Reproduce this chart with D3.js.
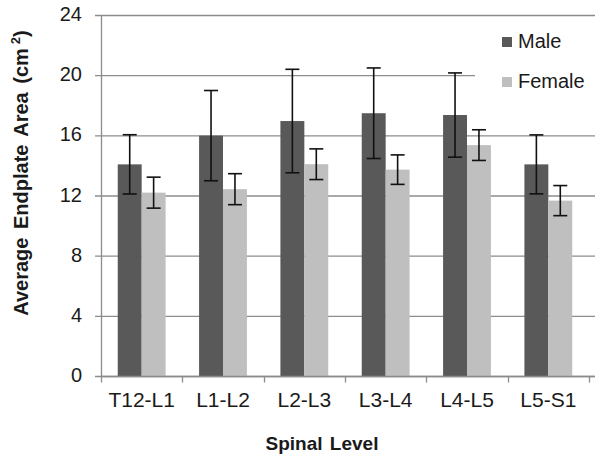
<!DOCTYPE html>
<html>
<head>
<meta charset="utf-8">
<script src="https://cdn.jsdelivr.net/npm/d3@7"></script>
<style>
    body { margin: 0; background: #fff; }
    #chart-area { width: 595px; height: 455px; }
    text { font-family: "Liberation Sans", Arial, sans-serif; fill: #1a1a1a; }
</style>
</head>
<body>
<div id="chart-area"></div>
<script>

// data
const categories = ["T12-L1", "L1-L2", "L2-L3", "L3-L4", "L4-L5", "L5-S1"];
const seriesNames = ["Male", "Female"];
const maleMeans = [14.07, 15.98, 16.95, 17.47, 17.35, 14.07];
const maleSD = [1.97, 3.0, 3.44, 3.01, 2.8, 1.96];
const femaleMeans = [12.19, 12.42, 14.08, 13.72, 15.35, 11.66];
const femaleSD = [1.03, 1.03, 1.02, 0.98, 1.02, 1.0];
const yTicks = [0, 4, 8, 12, 16, 20, 24];


class GroupedBarVis {

    constructor(parentElement) {
        this.parentElement = parentElement;
        this.colors = {Male: "#595959", Female: "#bfbfbf"};
        this.initVis();
    }

    initVis() {
        let vis = this;

        vis.width = 595;
        vis.height = 455;
        vis.plot = {left: 101, right: 589, top: 15, bottom: 376};

        vis.svg = d3.select("#" + vis.parentElement).append("svg")
            .attr("width", vis.width)
            .attr("height", vis.height);

        // scales
        vis.x0 = d3.scaleBand()
            .domain(categories)
            .range([vis.plot.left, vis.plot.right])
            .paddingInner(0)
            .paddingOuter(0);

        vis.x1 = d3.scaleBand()
            .domain(seriesNames)
            .range([0, vis.x0.bandwidth()])
            .paddingInner(0)
            .paddingOuter(0.7);

        vis.y = d3.scaleLinear()
            .domain([0, 24])
            .range([vis.plot.bottom, vis.plot.top]);

        vis.wrangleData();
    }

    wrangleData() {
        let vis = this;

        vis.displayData = categories.map((c, i) => ({
            category: c,
            values: [
                {series: "Male", mean: maleMeans[i], sd: maleSD[i]},
                {series: "Female", mean: femaleMeans[i], sd: femaleSD[i]}
            ]
        }));

        vis.updateVis();
    }

    updateVis() {
        let vis = this;

        // horizontal gridlines + y ticks
        vis.svg.append("g")
            .attr("class", "grid")
            .selectAll("line")
            .data(yTicks)
            .enter().append("line")
            .attr("x1", vis.plot.left - 6)
            .attr("x2", vis.width)
            .attr("y1", d => vis.y(d) + 0.5)
            .attr("y2", d => vis.y(d) + 0.5)
            .attr("stroke", "#8c8c8c")
            .attr("stroke-width", 1.3);

        vis.svg.append("g")
            .selectAll("text")
            .data(yTicks)
            .enter().append("text")
            .attr("x", vis.plot.left - 19)
            .attr("y", d => vis.y(d))
            .attr("dy", "0.3em")
            .attr("text-anchor", "end")
            .style("font-size", "20px")
            .text(d => d);

        // y axis line
        vis.svg.append("line")
            .attr("x1", vis.plot.left + 0.5)
            .attr("x2", vis.plot.left + 0.5)
            .attr("y1", vis.plot.top)
            .attr("y2", vis.plot.bottom)
            .attr("stroke", "#8c8c8c")
            .attr("stroke-width", 1.3);

        // x axis
        let xAxis = d3.axisBottom(vis.x0)
            .tickSize(0)
            .tickSizeOuter(0);

        let xg = vis.svg.append("g")
            .attr("class", "x-axis axis")
            .attr("transform", "translate(0," + (vis.plot.bottom + 0.5) + ")")
            .call(xAxis);
        xg.select(".domain").remove();
        xg.selectAll("text")
            .attr("y", 16)
            .attr("dy", "0.71em")
            .style("font-size", "21px")
            .style("font-family", "\"Liberation Sans\", Arial, sans-serif")
            .attr("fill", "#1a1a1a");

        // category boundary ticks
        let bounds = categories.map(c => vis.x0(c)).concat([vis.plot.right]);
        xg.selectAll(".bound")
            .data(bounds)
            .enter().append("line")
            .attr("class", "bound")
            .attr("x1", d => Math.round(d) + 0.5)
            .attr("x2", d => Math.round(d) + 0.5)
            .attr("y1", 0)
            .attr("y2", 6)
            .attr("stroke", "#8c8c8c")
            .attr("stroke-width", 1.3);

        // bars
        let groups = vis.svg.selectAll(".group")
            .data(vis.displayData)
            .enter().append("g")
            .attr("class", "group")
            .attr("transform", d => "translate(" + vis.x0(d.category) + ",0)");

        groups.selectAll("rect")
            .data(d => d.values)
            .enter().append("rect")
            .attr("x", d => vis.x1(d.series))
            .attr("width", vis.x1.bandwidth())
            .attr("y", d => vis.y(d.mean))
            .attr("height", d => vis.y(0) - vis.y(d.mean))
            .attr("fill", d => vis.colors[d.series]);

        // x axis baseline drawn over bars
        vis.svg.append("line")
            .attr("x1", vis.plot.left)
            .attr("x2", vis.width)
            .attr("y1", vis.plot.bottom + 0.5)
            .attr("y2", vis.plot.bottom + 0.5)
            .attr("stroke", "#8c8c8c")
            .attr("stroke-width", 1.3);

        // error bars
        let capW = 7;
        let err = groups.selectAll(".err")
            .data(d => d.values)
            .enter().append("g")
            .attr("class", "err")
            .attr("stroke", "#111")
            .attr("stroke-width", 1.6);

        err.append("line")
            .attr("x1", d => vis.x1(d.series) + vis.x1.bandwidth() / 2)
            .attr("x2", d => vis.x1(d.series) + vis.x1.bandwidth() / 2)
            .attr("y1", d => vis.y(d.mean + d.sd))
            .attr("y2", d => vis.y(d.mean - d.sd));

        err.selectAll(".cap")
            .data(d => [d.mean + d.sd, d.mean - d.sd].map(v => ({v: v, series: d.series})))
            .enter().append("line")
            .attr("class", "cap")
            .attr("x1", d => vis.x1(d.series) + vis.x1.bandwidth() / 2 - capW)
            .attr("x2", d => vis.x1(d.series) + vis.x1.bandwidth() / 2 + capW)
            .attr("y1", d => vis.y(d.v))
            .attr("y2", d => vis.y(d.v));

        // legend (white box covers grid line behind it)
        let legend = vis.svg.append("g").attr("class", "legend");
        legend.append("rect")
            .attr("x", 475)
            .attr("y", 24)
            .attr("width", 120)
            .attr("height", 76)
            .attr("fill", "#fff");

        let items = legend.selectAll(".item")
            .data(seriesNames)
            .enter().append("g")
            .attr("class", "item")
            .attr("transform", (d, i) => "translate(502," + (37 + i * 40) + ")");

        items.append("rect")
            .attr("width", 10)
            .attr("height", 10)
            .attr("fill", d => vis.colors[d]);

        items.append("text")
            .attr("x", 16)
            .attr("y", 11)
            .style("font-size", "20px")
            .text(d => d);

        // axis titles
        vis.svg.append("text")
            .attr("x", 322)
            .attr("y", 450)
            .attr("text-anchor", "middle")
            .style("font-size", "19px")
            .style("font-weight", "bold")
            .style("word-spacing", "2px")
            .text("Spinal Level");

        let yTitle = vis.svg.append("text")
            .attr("transform", "translate(28,173) rotate(-90)")
            .attr("text-anchor", "middle")
            .style("font-size", "20px")
            .style("font-weight", "bold")
            .style("word-spacing", "3px")
            .text("Average Endplate Area (cm");
        yTitle.append("tspan")
            .attr("dx", 4)
            .attr("dy", -8)
            .style("font-size", "13px")
            .text("2");
        yTitle.append("tspan")
            .attr("dy", 8)
            .text(")");
    }
}

new GroupedBarVis("chart-area");

</script>
</body>
</html>
